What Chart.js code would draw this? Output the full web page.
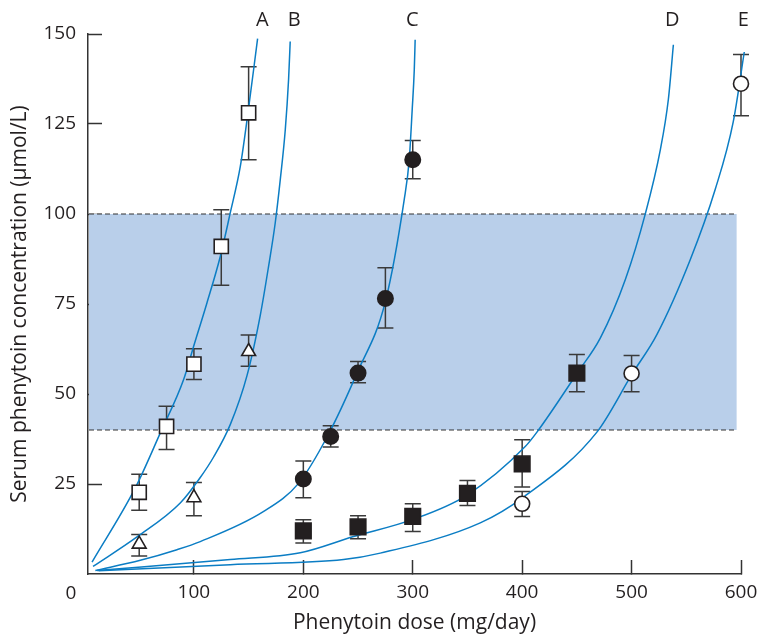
<!DOCTYPE html>
<html>
<head>
<meta charset="utf-8">
<script src="https://cdn.jsdelivr.net/npm/chart.js@4.4.1/dist/chart.umd.min.js"></script>
<style>
  html, body { margin: 0; padding: 0; background: #fff; }
  canvas { display: block; }
</style>
</head>
<body>
<canvas id="doseChart" width="762" height="637"></canvas>
<script>
// axis ticks
const xTicks = [100, 200, 300, 400, 500, 600];
const yTicks = [25, 50, 75, 100, 125, 150];
const originLabel = '0';

// therapeutic range (shaded band)
const bandRange = [40, 100];
const bandEnd = 596;

// measured points: dose, mean concentration, error bar low / high
const doseA = [50, 75, 100, 125, 150];
const concA = [22.7, 41.0, 58.3, 91.0, 128.1];
const lowA  = [17.7, 34.6, 54.0, 80.2, 115.1];
const highA = [27.7, 46.6, 62.6, 101.2, 140.9];

const doseB = [50, 100, 150];
const concB = [8.3, 21.2, 61.8];
const lowB  = [5.0, 16.2, 57.7];
const highB = [11.0, 25.4, 66.4];

const doseC = [200, 225, 250, 275, 300];
const concC = [26.4, 38.2, 55.8, 76.5, 115.1];
const lowC  = [21.2, 35.3, 53.1, 68.3, 109.8];
const highC = [31.4, 41.2, 59.0, 85.1, 120.4];

const doseD = [200, 250, 300, 350, 400, 450];
const concD = [12.0, 13.1, 16.0, 22.4, 30.6, 55.8];
const lowD  = [8.6, 9.8, 11.8, 19.0, 24.2, 50.6];
const highD = [15.1, 16.2, 19.5, 26.0, 37.3, 61.0];

const doseE = [400, 500, 600];
const concE = [19.5, 55.7, 136.2];
const lowE  = [16.0, 50.6, 127.3];
const highE = [22.9, 60.7, 144.3];

// fitted curves
const curveAX = [6.9, 46.4, 69.3, 90.6, 99.7, 111.9, 124.1, 133.2, 142.4, 149.2, 158.2];
const curveAY = [3.3, 23.9, 39.2, 54.0, 63.2, 75.3, 88.2, 100.3, 113.2, 127.6, 148.7];
const curveBX = [7.8, 48.0, 87.5, 105.8, 118.0, 133.2, 148.5, 160.6, 168.2, 174.3, 178.9, 183.5, 186.5, 188.0];
const curveBY = [2.1, 10.3, 19.7, 26.8, 32.5, 41.5, 55.1, 71.8, 85.4, 97.5, 109.5, 123.4, 137.3, 147.9];
const curveCX = [9.9, 51.0, 84.5, 105.8, 163.4, 195.4, 221.9, 249.0, 274.9, 292.2, 296.8, 299.5, 301.4, 302.2];
const curveCY = [1.0, 3.8, 6.75, 9.0, 17.3, 25.1, 38.2, 55.8, 75.6, 104.0, 115.1, 129.0, 140.1, 148.4];
const curveDX = [11.4, 133.2, 197.2, 245.9, 299.5, 348.9, 402.8, 413.5, 450.5, 471.5, 494.3, 512.6, 526.3, 533.6, 538.2];
const curveDY = [1.0, 4.0, 5.9, 10.4, 15.1, 21.8, 35.4, 39.4, 55.9, 65.6, 81.8, 100.1, 117.9, 131.8, 147.0];
const curveEX = [12.9, 133.2, 236.8, 270.3, 361.7, 401.9, 468.3, 500.8, 523.1, 553.6, 576.4, 592.9, 603.0];
const curveEY = [0.9, 2.6, 4.0, 5.8, 14.2, 21.5, 39.4, 55.7, 66.5, 87.3, 106.8, 125.6, 145.0];

const curveLabels = ['A', 'B', 'C', 'D', 'E'];
const curveLabelX = [162.5, 191.7, 299.5, 537.1, 602.0];

const ink = '#231f20';
const axisInk = '#333333';
const curveBlue = '#0b7dc4';
const fontFamily = '"Open Sans", "Noto Sans", sans-serif';

const toPoints = (xs, ys) => xs.map((x, i) => ({ x: x, y: ys[i] }));

function curve(xs, ys) {
  return {
    type: 'line',
    data: toPoints(xs, ys),
    borderColor: curveBlue,
    borderWidth: 1.5,
    pointRadius: 0,
    cubicInterpolationMode: 'monotone',
    fill: false,
    clip: 8,
    order: 1
  };
}

function markers(xs, ys, lo, hi, style, filled, radius) {
  return {
    type: 'scatter',
    data: toPoints(xs, ys),
    errLow: lo,
    errHigh: hi,
    pointStyle: style,
    pointRadius: radius,
    pointBackgroundColor: filled ? ink : '#ffffff',
    pointBorderColor: ink,
    pointBorderWidth: 1.6,
    showLine: false,
    clip: 12,
    order: 0
  };
}

// shaded band, dashed limits and error bars go under the marks
const bandPlugin = {
  id: 'bandAndErrors',
  beforeDatasetsDraw(chart) {
    const { ctx, chartArea, scales: { x, y } } = chart;
    const left = chartArea.left + 1;
    const right = x.getPixelForValue(bandEnd);
    const top = y.getPixelForValue(bandRange[1]);
    const bottom = y.getPixelForValue(bandRange[0]);
    ctx.save();
    ctx.fillStyle = '#b9cfea';
    ctx.fillRect(left, top, right - left, bottom - top);
    ctx.strokeStyle = axisInk;
    ctx.lineWidth = 1.2;
    ctx.setLineDash([5, 3]);
    ctx.beginPath();
    ctx.moveTo(left, top); ctx.lineTo(right, top);
    ctx.moveTo(left, bottom); ctx.lineTo(right, bottom);
    ctx.stroke();
    ctx.setLineDash([]);

    ctx.strokeStyle = '#3a3a3a';
    ctx.lineWidth = 1.5;
    chart.data.datasets.forEach(ds => {
      if (!ds.errLow) return;
      ds.data.forEach((p, i) => {
        const px = x.getPixelForValue(p.x);
        const y1 = y.getPixelForValue(ds.errLow[i]);
        const y2 = y.getPixelForValue(ds.errHigh[i]);
        ctx.beginPath();
        ctx.moveTo(px, y1); ctx.lineTo(px, y2);
        ctx.moveTo(px - 8, y1); ctx.lineTo(px + 8, y1);
        ctx.moveTo(px - 8, y2); ctx.lineTo(px + 8, y2);
        ctx.stroke();
      });
    });
    ctx.restore();
  }
};

// curve letters along the top, and the shared origin "0"
const labelPlugin = {
  id: 'curveLabels',
  afterDraw(chart) {
    const { ctx, chartArea, scales: { x } } = chart;
    ctx.save();
    ctx.fillStyle = ink;
    ctx.font = '20px ' + fontFamily;
    ctx.textAlign = 'center';
    ctx.textBaseline = 'middle';
    curveLabels.forEach((t, i) => {
      ctx.fillText(t, x.getPixelForValue(curveLabelX[i]), chartArea.top - 14);
    });
    ctx.font = '19px ' + fontFamily;
    ctx.fillText(originLabel, chartArea.left - 17, chartArea.bottom + 20);
    ctx.restore();
  }
};

const tickFont = { family: fontFamily, size: 19 };
const titleFont = { family: fontFamily, size: 21 };

new Chart(document.getElementById('doseChart').getContext('2d'), {
  type: 'scatter',
  data: {
    datasets: [
      markers(doseA, concA, lowA, highA, 'rect', false, 10),
      markers(doseB, concB, lowB, highB, 'triangle', false, 8),
      markers(doseC, concC, lowC, highC, 'circle', true, 7.7),
      markers(doseD, concD, lowD, highD, 'rect', true, 11),
      markers(doseE, concE, lowE, highE, 'circle', false, 7.5),
      curve(curveAX, curveAY),
      curve(curveBX, curveBY),
      curve(curveCX, curveCY),
      curve(curveDX, curveDY),
      curve(curveEX, curveEY)
    ]
  },
  options: {
    responsive: false,
    animation: false,
    events: [],
    layout: { padding: { top: 34, right: 21, left: 0, bottom: 0 } },
    plugins: { legend: { display: false }, tooltip: { enabled: false } },
    scales: {
      x: {
        type: 'linear',
        min: 3.2,
        max: 600,
        z: 1,
        afterBuildTicks: s => { s.ticks = xTicks.map(v => ({ value: v })); },
        afterFit: s => { s.height = 63; s.paddingLeft = 0; s.paddingRight = 0; },
        grid: { drawOnChartArea: false, tickLength: -14, tickColor: axisInk, tickWidth: 1.5 },
        border: { color: axisInk, width: 1.5 },
        ticks: { padding: 21, color: ink, font: tickFont, maxRotation: 0 },
        title: { display: true, text: 'Phenytoin dose (mg/day)', color: ink, font: titleFont, padding: { top: 0, bottom: 1 } }
      },
      y: {
        type: 'linear',
        min: 0,
        max: 150,
        z: 1,
        afterBuildTicks: s => { s.ticks = yTicks.map(v => ({ value: v })); },
        afterFit: s => { s.width = 88; s.paddingTop = 0; s.paddingBottom = 0; },
        grid: { drawOnChartArea: false, tickLength: -14, tickColor: axisInk, tickWidth: 1.5 },
        border: { color: axisInk, width: 1.5 },
        ticks: { padding: 26, color: ink, font: tickFont },
        title: { display: true, text: 'Serum phenytoin concentration (\u00b5mol/L)', color: ink, font: titleFont, padding: { top: 7, bottom: 0 } }
      }
    }
  },
  plugins: [bandPlugin, labelPlugin]
});
</script>
</body>
</html>
